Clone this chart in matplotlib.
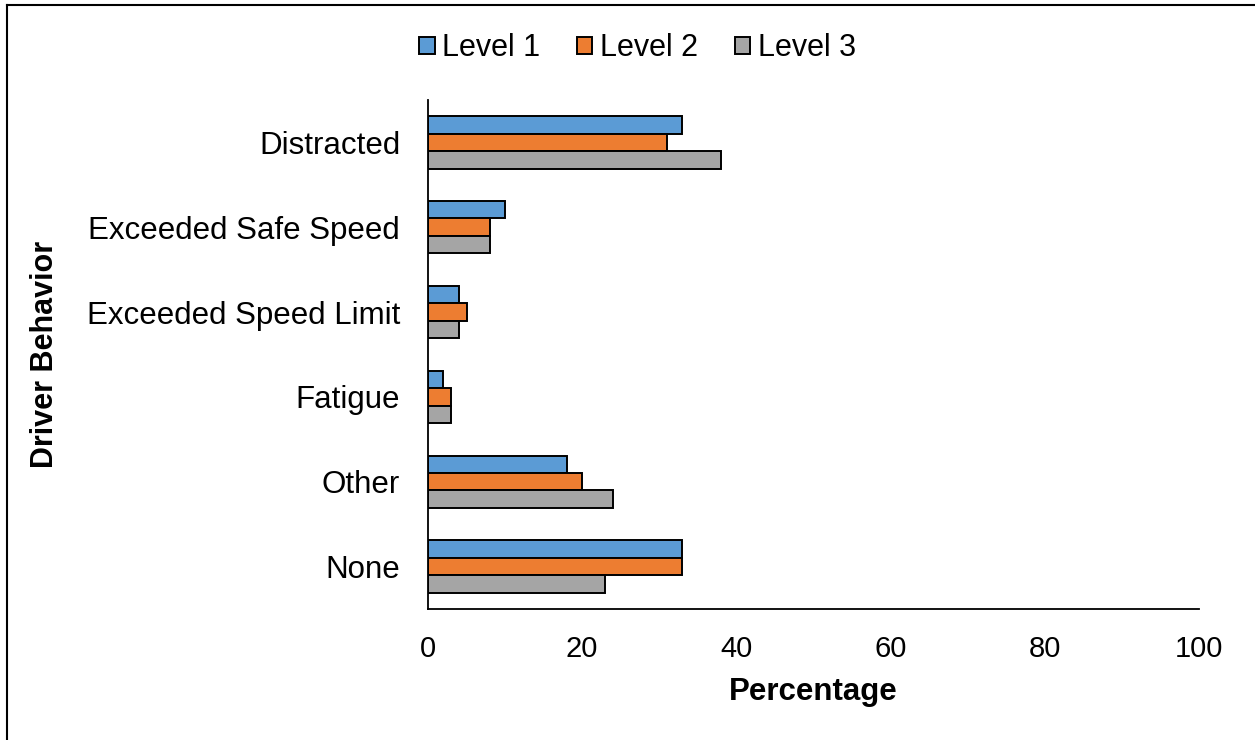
import matplotlib.pyplot as plt
import numpy as np
from matplotlib.lines import Line2D

plt.rcParams['font.family'] = ['Liberation Sans', 'DejaVu Sans']

behaviors = ['Distracted', 'Exceeded Safe Speed', 'Exceeded Speed Limit',
             'Fatigue', 'Other', 'None']
level1 = [33, 10, 4, 2, 18, 33]
level2 = [31, 8, 5, 3, 20, 33]
level3 = [38, 8, 4, 3, 24, 23]
series_names = ['Level 1', 'Level 2', 'Level 3']
colors = ['#5B9BD5', '#ED7D31', '#A5A5A5']

fig = plt.figure(figsize=(12.55, 7.4), dpi=100)
ax = fig.add_axes([0.341, 0.177, 0.6144, 0.688])

# categories run top to bottom, Level 1 on top within each group
y = np.arange(len(behaviors))[::-1]
h = 0.206
for i, (vals, name, c) in enumerate(zip([level1, level2, level3], series_names, colors)):
    ax.barh(y + h - i * h, vals, height=h, color=c, edgecolor='black',
            linewidth=1.4, label=name)

ax.set_xlim(0, 100)
ax.set_ylim(-0.5, len(behaviors) - 0.5)
ax.set_xticks([0, 20, 40, 60, 80, 100])
ax.set_yticks(y)
ax.set_yticklabels(behaviors)
ax.tick_params(axis='both', length=0)
ax.tick_params(axis='y', pad=20, labelsize=22.5)
ax.tick_params(axis='x', pad=19, labelsize=21)
for s in ['top', 'right']:
    ax.spines[s].set_visible(False)
for s in ['left', 'bottom']:
    ax.spines[s].set_linewidth(1.3)

ax.set_xlabel('Percentage', fontsize=22.5, fontweight='bold', labelpad=10)
fig.text(0.036, 0.521, 'Driver Behavior', rotation=90, fontsize=22,
         fontweight='bold', ha='center', va='center')

leg = fig.legend(loc='center', bbox_to_anchor=(0.508, 0.935), ncol=3, frameon=False,
                 fontsize=22, handlelength=0.5, handleheight=0.5,
                 handletextpad=0.25, columnspacing=1.2)

# chart border
fig.add_artist(Line2D([0.0056, 0.0056], [0, 0.993], transform=fig.transFigure,
                      color='black', linewidth=1.5))
fig.add_artist(Line2D([0.0056, 1], [0.993, 0.993], transform=fig.transFigure,
                      color='black', linewidth=1.5))

fig.savefig('out.png', dpi=100)
